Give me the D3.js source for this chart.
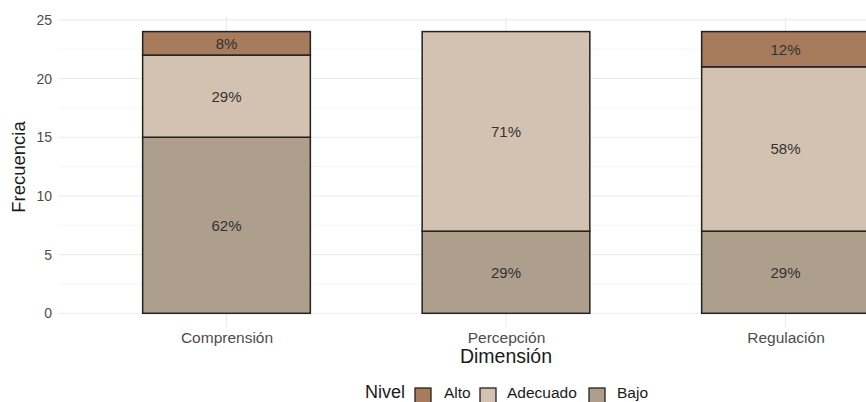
<!DOCTYPE html>
<html>
<head>
<meta charset="utf-8">
<script src="https://cdn.jsdelivr.net/npm/d3@7"></script>
<style>
  html, body { margin: 0; padding: 0; background: #ffffff; }
  svg { display: block; font-family: "Liberation Sans", Arial, sans-serif; }
</style>
</head>
<body>
<svg id="chart" width="866" height="402"></svg>
<script>
// ---- data ----
const categories = ["Comprensión", "Percepción", "Regulación"];
const levels = ["Alto", "Adecuado", "Bajo"];
const bajo = [15, 7, 7];
const adecuado = [7, 17, 14];
const alto = [2, 0, 3];
const bajoLabels = ["62%", "29%", "29%"];
const adecuadoLabels = ["29%", "71%", "58%"];
const altoLabels = ["8%", "", "12%"];
const yTicks = [0, 5, 10, 15, 20, 25];
const yMinor = [2.5, 7.5, 12.5, 17.5, 22.5];
const colors = { "Alto": "#A77B5B", "Adecuado": "#D3C2B1", "Bajo": "#AD9F8B" };

// ---- build stacked table (bottom to top: Bajo, Adecuado, Alto) ----
const rows = categories.map((c, i) => ({
  cat: c,
  Bajo: bajo[i], Adecuado: adecuado[i], Alto: alto[i],
  labels: { Bajo: bajoLabels[i], Adecuado: adecuadoLabels[i], Alto: altoLabels[i] }
}));
const stack = d3.stack().keys(["Bajo", "Adecuado", "Alto"]);
const series = stack(rows);

const svg = d3.select("#chart");

// scales (ggplot-like expansion)
const x = d3.scaleLinear().domain([0.4, 3.6]).range([58.8, 953.2]);
const y = d3.scaleLinear().domain([-1.2, 25.2]).range([327.4, 17.5]);
const barW = x(0.6) - x(0);

const panelLeft = 58.8, panelRight = 953.2;

// minor gridlines
svg.append("g").selectAll("line").data(yMinor).join("line")
  .attr("x1", panelLeft).attr("x2", panelRight)
  .attr("y1", d => y(d)).attr("y2", d => y(d))
  .attr("stroke", "#f4f4f4").attr("stroke-width", 0.8);

// major gridlines (y)
svg.append("g").selectAll("line").data(yTicks).join("line")
  .attr("x1", panelLeft).attr("x2", panelRight)
  .attr("y1", d => y(d)).attr("y2", d => y(d))
  .attr("stroke", "#ebebeb").attr("stroke-width", 1.1);

// major gridlines (x)
svg.append("g").selectAll("line").data(categories).join("line")
  .attr("x1", (d, i) => x(i + 1)).attr("x2", (d, i) => x(i + 1))
  .attr("y1", y(25.2)).attr("y2", y(-1.2))
  .attr("stroke", "#ebebeb").attr("stroke-width", 1.1);

// bars
const gBars = svg.append("g");
series.forEach(s => {
  gBars.append("g").selectAll("rect").data(s.filter(d => d[1] - d[0] > 0)).join("rect")
    .attr("x", d => x(categories.indexOf(d.data.cat) + 1) - barW / 2)
    .attr("width", barW)
    .attr("y", d => y(d[1]))
    .attr("height", d => y(d[0]) - y(d[1]))
    .attr("fill", colors[s.key])
    .attr("stroke", "#222222")
    .attr("stroke-width", 1.5);
});

// labels
series.forEach(s => {
  svg.append("g").selectAll("text").data(s.filter(d => d[1] - d[0] > 0)).join("text")
    .attr("x", d => x(categories.indexOf(d.data.cat) + 1))
    .attr("y", d => y((d[0] + d[1]) / 2))
    .attr("text-anchor", "middle")
    .attr("dominant-baseline", "central")
    .attr("font-size", "15px")
    .attr("fill", "#333333")
    .text(d => d.data.labels[s.key]);
});

// y axis tick labels
const yAxis = d3.axisLeft(y).tickValues(yTicks).tickSize(0).tickPadding(0);
const gy = svg.append("g").attr("transform", "translate(52,0)").call(yAxis);
gy.select(".domain").remove();
gy.selectAll("text").attr("font-size", "14px").attr("fill", "#4d4d4d")
  .attr("font-family", "Liberation Sans, Arial, sans-serif");

// x axis tick labels
const xAxis = d3.axisBottom(x).tickValues([1, 2, 3]).tickFormat(d => categories[d - 1]).tickSize(0).tickPadding(0);
const gx = svg.append("g").attr("transform", "translate(0,332)").call(xAxis);
gx.select(".domain").remove();
gx.selectAll("text").attr("font-size", "15.5px").attr("fill", "#4d4d4d")
  .attr("font-family", "Liberation Sans, Arial, sans-serif");

// axis titles
svg.append("text").attr("x", 506).attr("y", 363).attr("text-anchor", "middle")
  .attr("font-size", "19.5px").attr("fill", "#1a1a1a").text("Dimensión");
svg.append("text").attr("transform", "translate(24.5,167) rotate(-90)")
  .attr("text-anchor", "middle").attr("font-size", "18.5px").attr("fill", "#1a1a1a").text("Frecuencia");

// legend
const legend = svg.append("g");
legend.append("text").attr("x", 365).attr("y", 398).attr("font-size", "18px").attr("fill", "#1a1a1a").text("Nivel");
const legendItems = [
  { key: "Alto", bx: 415, tx: 444 },
  { key: "Adecuado", bx: 480, tx: 507 },
  { key: "Bajo", bx: 589, tx: 617 }
];
legendItems.forEach(it => {
  legend.append("rect").attr("x", it.bx).attr("y", 388).attr("width", 16).attr("height", 16)
    .attr("fill", colors[it.key]).attr("stroke", "#222222").attr("stroke-width", 1.3);
  legend.append("text").attr("x", it.tx).attr("y", 398).attr("font-size", "15.5px").attr("fill", "#1a1a1a").text(it.key);
});
</script>
</body>
</html>
